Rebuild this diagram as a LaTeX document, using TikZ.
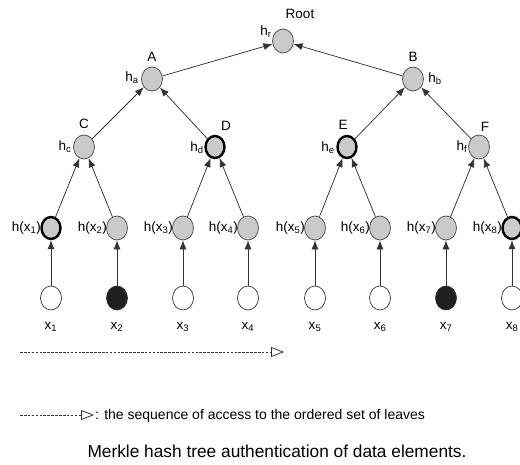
\documentclass[tikz,border=0pt]{standalone}
\usepackage{fontspec}
\setmainfont{Liberation Sans}
\usetikzlibrary{shapes.geometric,arrows.meta}
\definecolor{hgray}{HTML}{C9CACC}
\definecolor{lgray}{HTML}{555555}
\tikzset{
  hn/.style={ellipse, draw=lgray, fill=hgray, minimum width=21pt, minimum height=24pt, inner sep=0pt, line width=0.8pt},
  hb/.style={draw=black, line width=2.4pt, minimum width=19pt, minimum height=22pt},
  lf/.style={ellipse, draw=black!80, fill=white, minimum width=21pt, minimum height=24pt, inner sep=0pt, line width=0.7pt},
  dk/.style={fill=black!88},
  con/.style={draw=black!80, line width=0.75pt, -{Latex[length=9pt,width=7pt]}},
  lab/.style={font=\fontsize{13.5}{15}\selectfont, inner sep=0pt},
  seq/.style={draw=black!80, line width=0.7pt, dash pattern=on 2.6pt off 1.3pt, -{Triangle[open,length=13pt,width=10pt,line width=0.8pt,sep=0pt]}}
}
\begin{document}
\begin{tikzpicture}[x=1pt,y=-1pt]
\useasboundingbox (0,0) rectangle (520,465);
% internal nodes
\node[hn] (R) at (283,41) {};
\node[hn] (A) at (152,79) {};
\node[hn] (B) at (413,79) {};
\node[hn] (C) at (84,147) {};
\node[hn,hb] (D) at (215,147) {};
\node[hn,hb] (E) at (347,147) {};
\node[hn] (F) at (479,147) {};
% leaf hashes
\node[hn,hb] (h1) at (51,228) {};
\node[hn] (h2) at (117,228) {};
\node[hn] (h3) at (183,228) {};
\node[hn] (h4) at (248,228) {};
\node[hn] (h5) at (315,228) {};
\node[hn] (h6) at (380,228) {};
\node[hn] (h7) at (446,228) {};
\node[hn,hb] (h8) at (512,228) {};
% data leaves
\node[lf] (x1) at (51,298) {};
\node[lf,dk] (x2) at (117,298) {};
\node[lf] (x3) at (183,298) {};
\node[lf] (x4) at (248,298) {};
\node[lf] (x5) at (315,298) {};
\node[lf] (x6) at (380,298) {};
\node[lf,dk] (x7) at (446,298) {};
\node[lf] (x8) at (512,298) {};
% connectors
\foreach \i in {1,...,8} {\draw[con] (x\i) -- (h\i);}
\draw[con] (h1) -- (C);
\draw[con] (h2) -- (C);
\draw[con] (h3) -- (D);
\draw[con] (h4) -- (D);
\draw[con] (h5) -- (E);
\draw[con] (h6) -- (E);
\draw[con] (h7) -- (F);
\draw[con] (h8) -- (F);
\draw[con] (C) -- (A);
\draw[con] (D) -- (A);
\draw[con] (E) -- (B);
\draw[con] (F) -- (B);
\draw[con] (A) -- (R);
\draw[con] (B) -- (R);
% labels
\node[lab] (tRoot) at (300,14) {Root};
\node[lab] (thr) at (266,32) {h\textsubscript{r}};
\node[lab] (tA) at (152,57) {A};
\node[lab] (tha) at (132,78) {h\textsubscript{a}};
\node[lab] (tB) at (413,57) {B};
\node[lab] (thb) at (435,79) {h\textsubscript{b}};
\node[lab] (tC) at (84,124) {C};
\node[lab] (thc) at (65,147) {h\textsubscript{c}};
\node[lab] (tD) at (226,126) {D};
\node[lab] (thd) at (197,148) {h\textsubscript{d}};
\node[lab] (tE) at (343,125) {E};
\node[lab] (the) at (328,148) {h\textsubscript{e}};
\node[lab] (tF) at (485,127) {F};
\node[lab] (thf) at (462,147) {h\textsubscript{f}};
\foreach \i/\xx in {1/51,2/117,3/183,4/248,5/315,6/380,7/446,8/512} {
  \node[lab, anchor=east] (lh\i) at (\xx-10,228) {h(x\textsubscript{\i})};
  \node[lab] (lx\i) at (\xx,327) {x\textsubscript{\i}};
}
% sequence arrow
\coordinate (s0) at (20,352);
\coordinate (s1) at (284,352);
\draw[seq] (s0) -- (s1);
\coordinate (l0) at (20,415);
\coordinate (l1) at (94,415);
\draw[seq] (l0) -- (l1);
\node[font=\fontsize{14}{16}\selectfont, anchor=west, inner sep=0pt] (leg) at (95,415.5) {: the sequence of access to the ordered set of leaves};
\node[font=\fontsize{17.3}{19}\selectfont, inner sep=0pt] (cap) at (277,451) {Merkle hash tree authentication of data elements.};
\end{tikzpicture}
\end{document}
